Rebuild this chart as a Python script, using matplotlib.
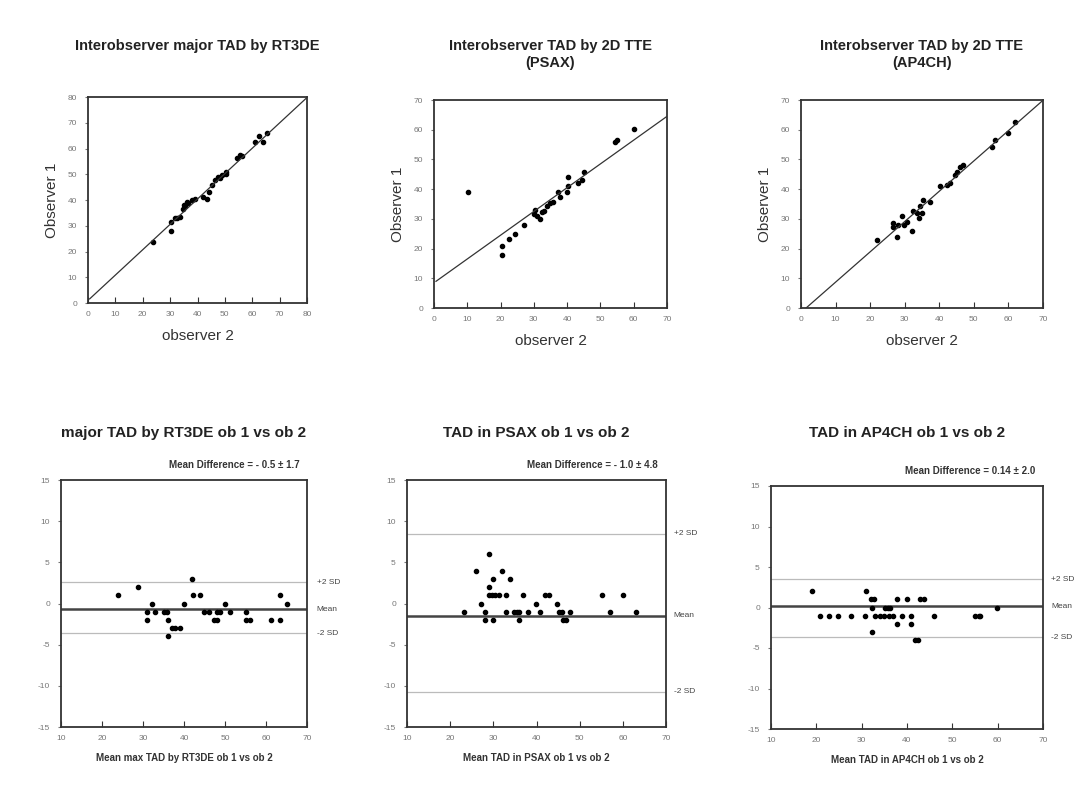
from matplotlib import pyplot as plt
import numpy as np

plt.rcParams['font.family'] = ['Liberation Sans', 'DejaVu Sans']
plt.rcParams['axes.unicode_minus'] = False

# ---- scatter data (observer 2, observer 1)
rt3de_x = [23.8, 30.2, 30.2, 31.7, 32.5, 33.5, 34.6, 35.0, 35.6, 36.0, 36.5, 37.9, 39.0,
           42.1, 43.3, 44.3, 45.2, 46.4, 47.6, 48.3, 48.8, 50.4, 50.4, 54.6, 55.6, 56.3,
           61.0, 62.3, 63.9, 65.3]
rt3de_y = [23.5, 28.1, 31.6, 32.9, 33.2, 33.5, 36.5, 38.2, 37.5, 39.2, 38.8, 39.9, 40.2,
           41.2, 40.5, 43.1, 46.0, 47.7, 49.0, 48.5, 49.7, 51.0, 50.2, 56.2, 57.5, 57.2,
           62.7, 64.7, 62.7, 66.0]
rt3de_fit = (1.0, 0.985)   # intercept, slope

psax_x = [10.3, 20.4, 20.4, 22.4, 24.4, 27.1, 30.1, 30.4, 30.9, 31.9, 32.4, 33.1, 33.9,
          34.9, 35.9, 37.4, 37.9, 40.1, 40.4, 40.4, 43.4, 44.4, 45.1, 54.5, 55.0, 60.0]
psax_y = [38.9, 20.7, 17.7, 23.1, 24.8, 27.9, 31.6, 33.1, 31.0, 30.1, 32.2, 32.7, 34.4,
          35.3, 35.8, 38.9, 37.2, 38.9, 41.2, 44.0, 42.1, 43.2, 45.9, 55.9, 56.4, 60.2]
psax_fit = (8.5, 0.8)

ap4ch_x = [21.9, 26.7, 26.7, 27.7, 28.2, 29.2, 29.7, 30.7, 32.0, 32.5, 33.5, 34.0, 34.5,
           35.0, 35.4, 37.4, 40.2, 42.2, 43.2, 44.6, 45.1, 46.0, 47.0, 55.2, 56.2, 60.0,
           62.0]
ap4ch_y = [23.0, 28.6, 27.4, 23.9, 28.0, 30.8, 28.0, 29.1, 25.8, 32.5, 31.9, 30.2, 34.2,
           31.9, 36.4, 35.8, 40.9, 41.4, 42.0, 44.8, 45.9, 47.6, 48.2, 54.3, 56.6, 58.8,
           62.7]
ap4ch_fit = (-1.5, 1.02)

# ---- Bland-Altman data (mean, difference)
ba1_x = [24.0, 28.9, 30.9, 30.9, 32.1, 33.0, 35.0, 35.8, 36.0, 36.0, 37.0, 37.9, 39.1,
         39.9, 41.9, 42.2, 44.0, 44.9, 46.0, 47.2, 48.0, 48.0, 48.8, 50.0, 51.1, 55.2,
         55.2, 56.2, 61.2, 63.3, 63.3, 65.1]
ba1_y = [1, 2, -1, -2, 0, -1, -1, -1, -2, -4, -3, -3, -3,
         0, 3, 1, 1, -1, -1, -2, -2, -1, -1, 0, -1, -1,
         -2, -2, -2, 1, -2, 0]
ba1_lines = (2.6, -0.7, -3.6)   # +2SD, mean, -2SD

ba2_x = [23.1, 26.0, 27.1, 28.0, 28.0, 28.9, 28.9, 28.9, 29.7, 30.0, 30.0, 30.4, 31.2,
         32.0, 33.0, 33.0, 33.9, 34.9, 35.4, 36.0, 36.0, 36.9, 38.0, 39.9, 40.8, 42.0,
         43.0, 44.8, 45.1, 45.8, 46.1, 46.9, 47.8, 55.1, 57.0, 60.1, 63.0]
ba2_y = [-1, 4, 0, -1, -2, 6, 2, 1, 1, 3, -2, 1, 1,
         4, 1, -1, 3, -1, -1, -1, -2, 1, -1, 0, -1, 1,
         1, 0, -1, -1, -2, -2, -1, 1, -1, 1, -1]
ba2_lines = (8.45, -1.5, -10.7)

ba3_x = [19.0, 20.9, 22.9, 24.8, 27.7, 30.8, 31.0, 32.1, 32.3, 32.3, 32.8, 33.0, 34.0,
         34.9, 35.1, 35.8, 36.0, 36.3, 36.9, 37.9, 37.9, 38.9, 40.0, 40.9, 40.9, 41.8,
         42.4, 42.9, 43.8, 46.0, 55.1, 55.8, 56.2, 59.9]
ba3_y = [2, -1, -1, -1, -1, -1, 2, 1, 0, -3, 1, -1, -1,
         -1, 0, 0, -1, 0, -1, 1, -2, -1, 1, -1, -2, -4,
         -4, 1, 1, -1, -1, -1, -1, 0]
ba3_lines = (3.5, 0.14, -3.7)

W, H = 1088, 789
fig = plt.figure(figsize=(W / 100, H / 100), dpi=100)


def rect(l, r, t, b):
    return [l / W, 1 - b / H, (r - l) / W, (b - t) / H]


def style(ax):
    for s in ax.spines.values():
        s.set_color('#333333')
        s.set_linewidth(1.3)
    ax.tick_params(axis='x', direction='in', length=4, labelsize=6, colors='#333333',
                   labelcolor='#777777', pad=6)
    ax.tick_params(axis='y', direction='out', length=2, labelsize=6, colors='#777777',
                   labelcolor='#777777', pad=6)


def fit_start(fit):
    # first x where the line is inside the frame
    return max(0.0, -fit[0] / fit[1]) if fit[0] < 0 else 0.6


def scatter_panel(r, x, y, fit, lim, title, titley):
    ax = fig.add_axes(r)
    ax.plot(x, y, 'o', color='black', ms=3)
    xs = np.array([fit_start(fit), lim])
    ax.plot(xs, fit[0] + fit[1] * xs, color='#333333', lw=0.9)
    ax.set_xlim(0, lim)
    ax.set_ylim(0, lim)
    ax.set_xticks(np.arange(0, lim + 1, 10))
    ax.set_yticks(np.arange(0, lim + 1, 10))
    ax.set_xlabel('observer 2', fontsize=11, color='#333333', labelpad=8)
    ax.set_ylabel('Observer 1', fontsize=11, color='#333333', labelpad=6)
    style(ax)
    pos = ax.get_position()
    fig.text(pos.x0 + pos.width / 2, titley, title, ha='center', va='top',
             fontsize=10.5, fontweight='bold', color='#222222', linespacing=1.25)
    return ax


def ba_panel(r, x, y, lines, title, xlabel, meantxt, labx):
    ax = fig.add_axes(r)
    ax.axhline(lines[0], color='#bbbbbb', lw=0.9)
    ax.axhline(lines[2], color='#bbbbbb', lw=0.9)
    ax.axhline(lines[1], color='#444444', lw=1.8)
    ax.plot(x, y, 'o', color='black', ms=3)
    ax.set_xlim(10, 70)
    ax.set_ylim(-15, 15)
    ax.set_xticks(np.arange(10, 71, 10))
    ax.set_yticks(np.arange(-15, 16, 5))
    ax.set_xlabel(xlabel, fontsize=7, fontweight='bold', color='#333333', labelpad=8)
    style(ax)
    pos = ax.get_position()
    fig.text(pos.x0 + pos.width / 2, 1 - 433 / H, title, ha='center', va='center',
             fontsize=11, fontweight='bold', color='#222222')
    ax.text(0.97, 1.06, meantxt, transform=ax.transAxes, ha='right', va='center',
            fontsize=7, fontweight='bold', color='#333333')
    for val, lab in zip(lines, ['+2 SD', 'Mean', '-2 SD']):
        ax.text(labx, val, lab, transform=ax.get_yaxis_transform(), ha='left',
                va='center', fontsize=6, color='#444444', clip_on=False)
    return ax


scatter_panel(rect(88, 307, 97, 303), rt3de_x, rt3de_y, rt3de_fit, 80,
              'Interobserver major TAD by RT3DE', 1 - 39 / H)
scatter_panel(rect(434, 667, 100, 308), psax_x, psax_y, psax_fit, 70,
              'Interobserver TAD by 2D TTE\n(PSAX)', 1 - 39 / H)
scatter_panel(rect(801, 1043, 100, 308), ap4ch_x, ap4ch_y, ap4ch_fit, 70,
              'Interobserver TAD by 2D TTE\n(AP4CH)', 1 - 39 / H)

ba_panel(rect(61, 307, 480, 727), ba1_x, ba1_y, ba1_lines,
         'major TAD by RT3DE ob 1 vs ob 2', 'Mean max TAD by RT3DE ob 1 vs ob 2',
         'Mean Difference = - 0.5 \u00b1 1.7', 1.04)
ba_panel(rect(407, 666, 480, 727), ba2_x, ba2_y, ba2_lines,
         'TAD in PSAX ob 1 vs ob 2', 'Mean TAD in PSAX ob 1 vs ob 2',
         'Mean Difference = - 1.0 \u00b1 4.8', 1.03)
ba_panel(rect(771, 1043, 486, 729), ba3_x, ba3_y, ba3_lines,
         'TAD in AP4CH ob 1 vs ob 2', 'Mean TAD in AP4CH ob 1 vs ob 2',
         'Mean Difference = 0.14 \u00b1 2.0', 1.03)

plt.savefig('out.png', dpi=100)
